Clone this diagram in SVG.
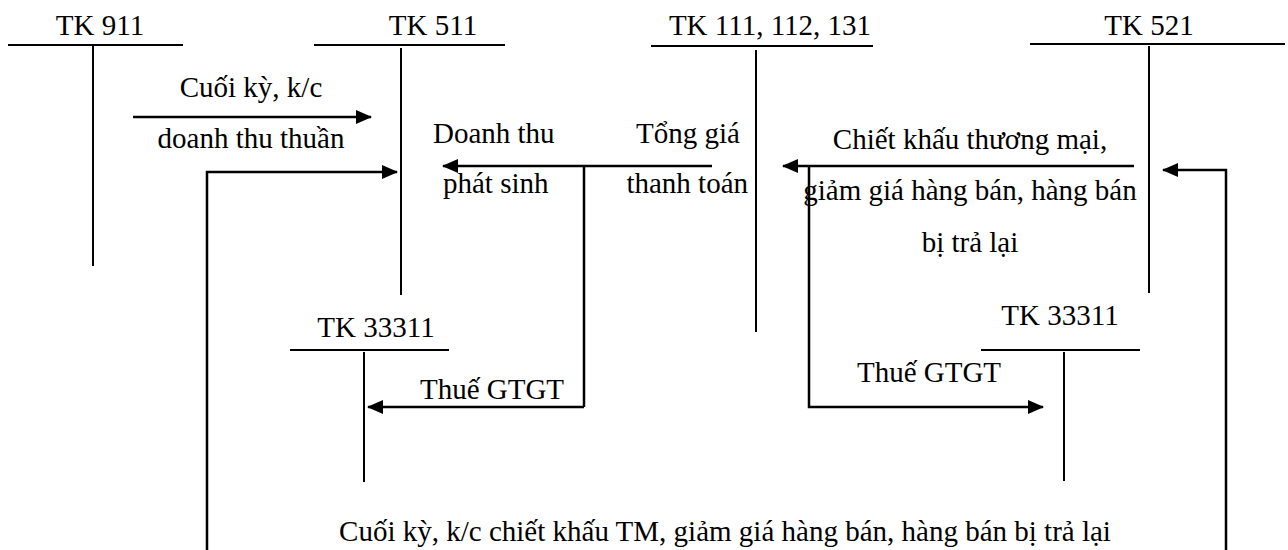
<svg xmlns="http://www.w3.org/2000/svg" width="1288" height="550" viewBox="0 0 1288 550">
<style>
text{font-family:"Liberation Serif","Times New Roman",serif;font-size:29px;fill:#000}
.c{text-anchor:middle}
.e{text-anchor:end}
.t{stroke:#000;stroke-width:2;fill:none}
.a{stroke:#000;stroke-width:2.5;fill:none;marker-end:url(#ah)}
.l{stroke:#000;stroke-width:2.5;fill:none}
</style>
<defs>
<marker id="ah" markerUnits="userSpaceOnUse" markerWidth="16" markerHeight="14" refX="15" refY="7" orient="auto">
<path d="M0,0 L16,7 L0,14 z" fill="#000"/>
</marker>
</defs>
<rect width="1288" height="550" fill="#fff"/>
<g id="tk911">
<text class="c" x="100" y="35">TK 911</text>
<path class="t" d="M8,45 H183 M93,45 V266"/>
</g>
<g id="tk511">
<text class="c" x="433" y="35">TK 511</text>
<path class="t" d="M314,45 H505 M401,48 V295"/>
</g>
<g id="tk111">
<text class="c" x="770" y="35">TK 111, 112, 131</text>
<path class="t" d="M651,46 H873 M756,50 V332"/>
</g>
<g id="tk521">
<text class="c" x="1149" y="35">TK 521</text>
<path class="t" d="M1030,44 H1285 M1149,46 V293"/>
</g>
<g id="tk33311a">
<text class="c" x="376" y="337">TK 33311</text>
<path class="t" d="M290,350 H449 M364,352 V482"/>
</g>
<g id="tk33311b">
<text class="c" x="1060" y="325">TK 33311</text>
<path class="t" d="M981,350 H1140 M1064,352 V481"/>
</g>
<g id="connectors">
<path class="a" d="M133,117 H371"/>
<path class="a" d="M207,550 V172 H397"/>
<path class="a" d="M712,166 H443"/>
<path class="l" d="M584,166 V407"/>
<path class="a" d="M584,407 H368"/>
<path class="a" d="M1134,166 H783"/>
<path class="a" d="M809,166 V407 H1043"/>
<path class="a" d="M1226,550 V170 H1163"/>
</g>
<g id="labels">
<text class="c" x="251" y="97">Cuối kỳ, k/c</text>
<text class="c" x="251" y="148">doanh thu thuần</text>
<text x="433" y="143">Doanh thu</text>
<text x="443" y="193">phát sinh</text>
<text class="e" x="740" y="143">Tổng giá</text>
<text class="e" x="748" y="193">thanh toán</text>
<text class="c" x="970" y="149">Chiết khấu thương mại,</text>
<text class="c" x="970" y="200">giảm giá hàng bán, hàng bán</text>
<text class="c" x="970" y="252">bị trả lại</text>
<text class="c" x="492" y="399">Thuế GTGT</text>
<text class="c" x="929" y="382">Thuế GTGT</text>
<text class="c" x="725" y="541">Cuối kỳ, k/c chiết khấu TM, giảm giá hàng bán, hàng bán bị trả lại</text>
</g>
</svg>
